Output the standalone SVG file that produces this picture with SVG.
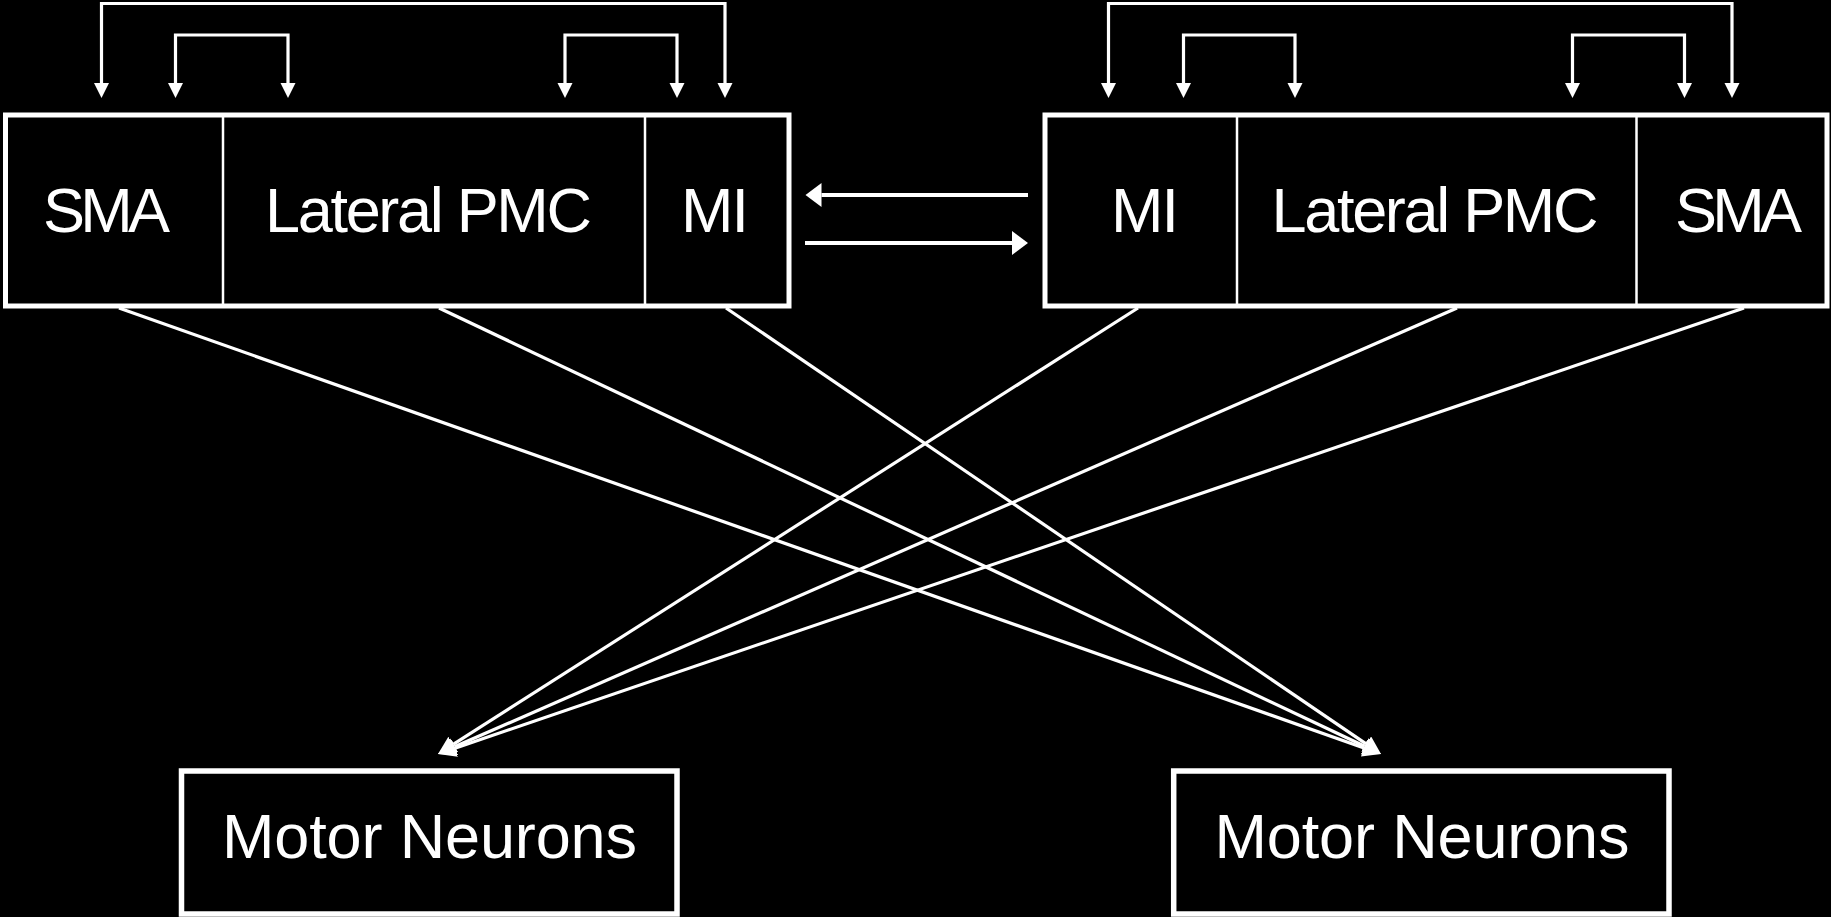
<svg xmlns="http://www.w3.org/2000/svg" width="1831" height="917" viewBox="0 0 1831 917">
  <style>
    .frame { fill: #000; stroke: #fff; stroke-width: 5; }
    .motor { fill: #000; stroke: #fff; stroke-width: 5.5; }
    .divider { stroke: #fff; stroke-width: 2.5; }
    .label { fill: #fff; font-family: "Liberation Sans", Arial, sans-serif; font-size: 63px; text-anchor: middle; }
    .loop { fill: none; stroke: #fff; stroke-width: 3.2; marker-start: url(#head-small); marker-end: url(#head-small); }
    .proj { fill: none; stroke: #fff; stroke-width: 3.2; marker-end: url(#head-proj); }
    .cross { fill: none; stroke: #fff; stroke-width: 4; marker-end: url(#head-wide); }
  </style>
  <defs>
    <!-- heads are anchored at their base; the line stops where the head begins -->
    <marker id="head-small" markerUnits="userSpaceOnUse" markerWidth="16" markerHeight="16" refX="0" refY="7.5" orient="auto-start-reverse">
      <path d="M0,0 L15,7.5 L0,15 Z" fill="#fff"/>
    </marker>
    <marker id="head-proj" markerUnits="userSpaceOnUse" markerWidth="19" markerHeight="19" refX="0" refY="9" orient="auto">
      <path d="M0,0 L18,9 L0,18 Z" fill="#fff"/>
    </marker>
    <marker id="head-wide" markerUnits="userSpaceOnUse" markerWidth="17" markerHeight="25" refX="0" refY="12" orient="auto">
      <path d="M0,0 L16,12 L0,24 Z" fill="#fff"/>
    </marker>
  </defs>

  <rect x="0" y="0" width="1831" height="917" fill="#000"/>

  <!-- left hemisphere cortex -->
  <g id="left-cortex">
    <rect class="frame" x="5.5" y="115" width="783.5" height="191"/>
    <line class="divider" x1="223" y1="115" x2="223" y2="306"/>
    <line class="divider" x1="645" y1="115" x2="645" y2="306"/>
    <text class="label" x="106.5" y="232" textLength="127">SMA</text>
    <text class="label" x="428.5" y="232" textLength="327">Lateral PMC</text>
    <text class="label" x="715" y="232" textLength="68">MI</text>
  </g>

  <!-- right hemisphere cortex -->
  <g id="right-cortex">
    <rect class="frame" x="1045" y="115" width="782" height="191"/>
    <line class="divider" x1="1237" y1="115" x2="1237" y2="306"/>
    <line class="divider" x1="1636.5" y1="115" x2="1636.5" y2="306"/>
    <text class="label" x="1145" y="232" textLength="68">MI</text>
    <text class="label" x="1435" y="232" textLength="327">Lateral PMC</text>
    <text class="label" x="1738.5" y="232" textLength="127">SMA</text>
  </g>

  <!-- spinal targets -->
  <g id="motor-left">
    <rect class="motor" x="181.5" y="771" width="495.5" height="143"/>
    <text class="label" x="429.5" y="858" textLength="415">Motor Neurons</text>
  </g>
  <g id="motor-right">
    <rect class="motor" x="1173.7" y="771" width="495.3" height="143"/>
    <text class="label" x="1422" y="858" textLength="415">Motor Neurons</text>
  </g>

  <g id="connectors">
    <!-- intra-hemispheric loops, left -->
    <path class="loop" d="M101.5,83 V3.5 H725 V83"/>
    <path class="loop" d="M175.5,83 V35 H288 V83"/>
    <path class="loop" d="M565,83 V35 H677 V83"/>
    <!-- intra-hemispheric loops, right -->
    <path class="loop" d="M1108.5,83 V3.5 H1732 V83"/>
    <path class="loop" d="M1183.5,83 V35 H1295 V83"/>
    <path class="loop" d="M1572.5,83 V35 H1684.5 V83"/>

    <!-- callosal links between the two MI areas -->
    <line class="cross" x1="1028" y1="195" x2="821.5" y2="195"/>
    <line class="cross" x1="805" y1="243" x2="1012" y2="243"/>

    <!-- left cortex to right motor neurons -->
    <line class="proj" x1="119" y1="308" x2="1364" y2="748"/>
    <line class="proj" x1="439" y1="308" x2="1364.7" y2="746.3"/>
    <line class="proj" x1="726" y1="308" x2="1366.1" y2="743.9"/>
    <!-- right cortex to left motor neurons -->
    <line class="proj" x1="1138" y1="308" x2="453.2" y2="744.3"/>
    <line class="proj" x1="1457" y1="308" x2="454.5" y2="746.8"/>
    <line class="proj" x1="1744" y1="308" x2="455" y2="748.2"/>
  </g>
</svg>
